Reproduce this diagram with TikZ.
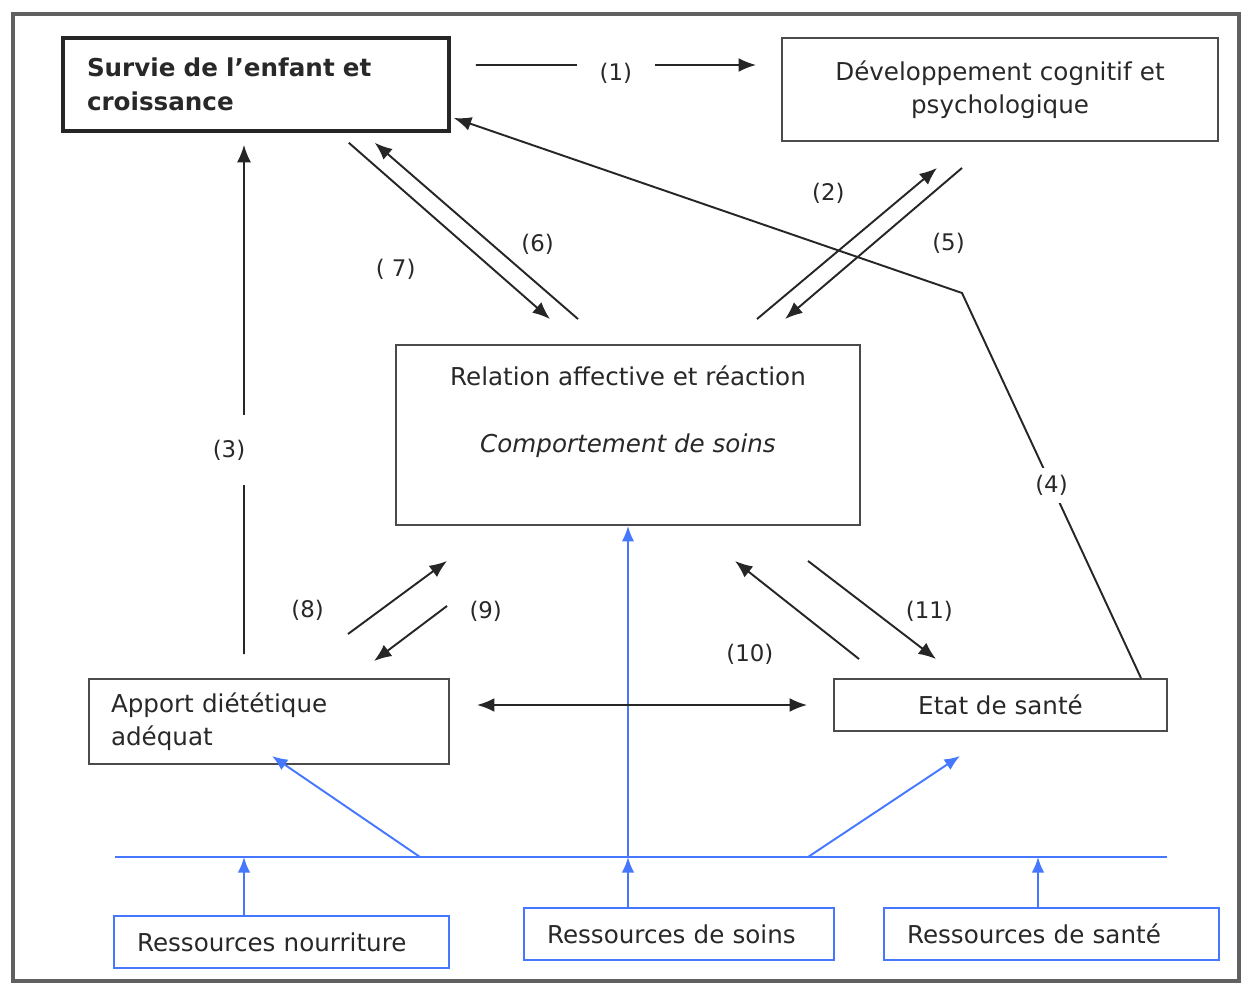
\documentclass[tikz,border=0pt]{standalone}
\usepackage{fontspec}
\setmainfont{DejaVu Sans}
\usepackage{xcolor}
\usetikzlibrary{positioning, arrows.meta}

\definecolor{resblue}{RGB}{70,120,255}
\definecolor{boxgray}{RGB}{75,75,75}
\definecolor{txtgray}{RGB}{40,40,40}

\begin{document}
\begin{tikzpicture}

	% Styles
	\tikzset{
		box/.style={
			rectangle, draw=boxgray, line width=1.1pt, inner sep=0pt,
			align=center, text=txtgray, font=\fontsize{14}{19}\selectfont
		},
		mainbox/.style={
			box, draw=black!85, line width=2pt, align=left,
			font=\fontsize{14}{19}\selectfont\bfseries
		},
		resbox/.style={
			box, draw=resblue, align=left, inner xsep=0.46cm, minimum height=1.04cm
		},
		lbl/.style={
			inner sep=2pt, text=txtgray, font=\fontsize{13}{15}\selectfont
		},
		gaplbl/.style={lbl, fill=white, inner sep=4pt},
		arrblack/.style={line width=1.1pt, draw=black!85, -{Latex[length=3.5mm,width=2.8mm]}},
		arrboth/.style={arrblack, {Latex[length=3.5mm,width=2.8mm]}-{Latex[length=3.5mm,width=2.8mm]}},
		arrblue/.style={line width=1.1pt, draw=resblue, -{Latex[length=3.1mm,width=2.5mm]}},
		busline/.style={line width=1.1pt, draw=resblue}
	}

	\useasboundingbox (0,0) rectangle (24.92,-19.70);
	\draw[line width=2.8pt, draw=gray!75!black] (0.26,-0.28) rectangle (24.78,-19.62);

	% Outcomes
	\node (survie) [mainbox, text width=6.76cm, inner xsep=0.48cm, minimum height=1.86cm] at (5.12,-1.69) {Survie de l’enfant et\\croissance};
	\node (dev) [box, text width=8.72cm, minimum height=2.06cm] at (20.00,-1.79) {Développement cognitif et\\psychologique};

	% Care
	\node (relation) [box, minimum width=9.28cm, minimum height=3.6cm] at (12.56,-8.70) {};
	\node (relationlbl) [anchor=north, align=center, text=txtgray, font=\fontsize{14}{19}\selectfont, inner sep=0pt] at ([yshift=-0.42cm]relation.north) {Relation affective et réaction\\[19.6pt]\textit{Comportement de soins}};

	% Intake and health
	\node (apport) [box, align=left, text width=6.32cm, inner xsep=0.44cm, minimum height=1.7cm] at (5.38,-14.43) {Apport diététique\\adéquat};
	\node (etat) [box, minimum width=6.66cm, minimum height=1.04cm] at (20.01,-14.10) {Etat de santé};

	% Resources
	\node (resnour) [resbox, text width=5.78cm] at (5.63,-18.84) {Ressources nourriture};
	\node (ressoins) [resbox, text width=5.28cm] at (13.58,-18.68) {Ressources de soins};
	\node (ressante) [resbox, text width=5.78cm] at (21.03,-18.68) {Ressources de santé};

	% Blue resource line
	\coordinate (busleft) at (2.30,-17.14);
	\coordinate (busright) at (23.34,-17.14);
	\coordinate (tapnour) at (4.88,-17.14);
	\coordinate (tapsoins) at (12.56,-17.14);
	\coordinate (tapsante) at (20.76,-17.14);
	\coordinate (forkdiet) at (8.40,-17.14);
	\coordinate (forksante) at (16.16,-17.14);
	\coordinate (dietin) at (5.44,-15.12);
	\coordinate (santein) at (19.20,-15.12);
	\coordinate (bendfour) at (19.24,-5.86);

	\draw[busline] (busleft) -- (busright);
	\draw[arrblue] (resnour.north -| tapnour) -- (tapnour);
	\draw[arrblue] (ressoins.north -| tapsoins) -- (tapsoins);
	\draw[arrblue] (ressante.north -| tapsante) -- (tapsante);
	\draw[arrblue] (tapsoins) -- (relation.south);
	\draw[arrblue] (forkdiet) -- (dietin);
	\draw[arrblue] (forksante) -- (santein);

	% Numbered links
	\draw[arrblack] ([xshift=0.5cm,yshift=0.39cm]survie.east) -- node (lblone) [gaplbl, inner xsep=0.45cm, yshift=-0.16cm] {(1)} ([xshift=-0.5cm,yshift=0.49cm]dev.west);
	\draw[arrblack] ([xshift=2.58cm,yshift=0.5cm]relation.north) -- node (lbltwo) [lbl, pos=0.83, xshift=-1.56cm] {(2)} ([xshift=-1.26cm,yshift=-0.52cm]dev.south);
	\draw[arrblack] ([xshift=-0.5cm,yshift=0.48cm]apport.north) -- node (lblthree) [gaplbl, pos=0.4, xshift=-0.3cm, inner ysep=0.5cm] {(3)} ([xshift=-0.24cm,yshift=-0.24cm]survie.south);
	\draw[arrblack] ([xshift=-0.54cm]etat.north east) -- node (lblfour) [gaplbl] {(4)} (bendfour) -- ([xshift=0.06cm,yshift=-0.67cm]survie.east);
	\draw[arrblack] ([xshift=-0.76cm,yshift=-0.52cm]dev.south) -- node (lblfive) [lbl, pos=0.5, xshift=1.5cm] {(5)} ([xshift=3.14cm,yshift=0.5cm]relation.north);
	\draw[arrblack] ([xshift=-1.0cm,yshift=0.5cm]relation.north) -- node (lblsix) [lbl, pos=0.425, xshift=0.92cm] {(6)} ([xshift=-1.52cm,yshift=-0.2cm]survie.south east);
	\draw[arrblack] ([xshift=-2.04cm,yshift=-0.2cm]survie.south east) -- node (lblseven) [lbl, pos=0.72, xshift=-1.96cm] {( 7)} ([xshift=-1.56cm,yshift=0.5cm]relation.north);
	\draw[arrblack] ([xshift=-2.04cm,yshift=0.88cm]apport.north east) -- node (lbleight) [lbl, pos=0.32, xshift=-1.44cm] {(8)} ([xshift=1.04cm,yshift=-0.70cm]relation.south west);
	\draw[arrblack] ([xshift=1.04cm,yshift=-1.60cm]relation.south west) -- node (lblnine) [lbl, pos=0.1, xshift=0.92cm] {(9)} ([xshift=-1.52cm,yshift=0.34cm]apport.north east);
	\draw[arrblack] ([xshift=0.52cm,yshift=0.38cm]etat.north west) -- node (lblten) [lbl, pos=0.05, xshift=-2.06cm] {(10)} ([xshift=2.14cm,yshift=-0.70cm]relation.south);
	\draw[arrblack] ([xshift=3.60cm,yshift=-0.70cm]relation.south) -- node (lbleleven) [lbl, pos=0.51, xshift=1.12cm] {(11)} ([xshift=2.06cm,yshift=0.38cm]etat.north west);
	\draw[arrboth] ([xshift=0.54cm,yshift=0.33cm]apport.east) -- ([xshift=-0.52cm]etat.west);

\end{tikzpicture}
\end{document}
